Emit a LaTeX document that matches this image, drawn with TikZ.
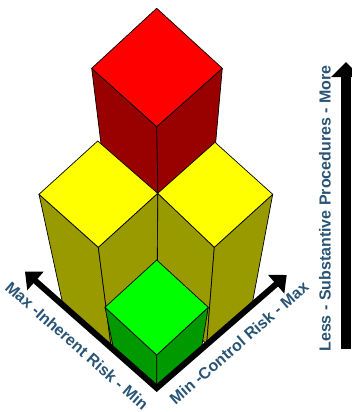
\documentclass[tikz,border=0pt]{standalone}
\usepackage{fontspec}
\setmainfont{Liberation Sans}
\usetikzlibrary{arrows.meta}
\definecolor{lbl}{RGB}{41,84,117}
\definecolor{redtop}{RGB}{255,0,0}
\definecolor{redside}{RGB}{153,0,0}
\definecolor{yeltop}{RGB}{255,255,0}
\definecolor{yelside}{RGB}{153,153,0}
\definecolor{grntop}{RGB}{0,255,0}
\definecolor{grnside}{RGB}{0,153,0}
\tikzset{
  face/.style={draw=black,line width=0.7pt,line join=round},
  axis/.style={draw=black,line width=6pt,line join=miter},
  lab/.style={text=lbl,font=\fontsize{16}{16}\selectfont\bfseries,inner sep=0pt}
}
\begin{document}
\begin{tikzpicture}[x=1pt,y=-1pt]
\useasboundingbox (0,0) rectangle (352,412);
% red cube (back)
\coordinate (rT) at (156.7,8.3);
\coordinate (rL) at (91.7,68.3);
\coordinate (rR) at (222.3,68.3);
\coordinate (rB) at (156.7,126.7);
\coordinate (rLb) at (102,152);
\coordinate (rCb) at (158,198);
\coordinate (rRb) at (215,150);
\fill[redside,face] (rL) -- (rB) -- (rCb) -- (rLb) -- cycle;
\fill[redside,face] (rB) -- (rR) -- (rRb) -- (rCb) -- cycle;
\fill[redtop,face] (rT) -- (rR) -- (rB) -- (rL) -- cycle;
% left yellow cube
\coordinate (aT) at (97.7,141);
\coordinate (aL) at (39,194.3);
\coordinate (aR) at (157.7,193.3);
\coordinate (aB) at (98.3,247.3);
\coordinate (aLb) at (63,305);
\coordinate (aBb) at (111,346);
\coordinate (aRb) at (157,300);
\fill[yelside,face] (aL) -- (aB) -- (aBb) -- (aLb) -- cycle;
\fill[yelside,face] (aB) -- (aR) -- (aRb) -- (aBb) -- cycle;
\fill[yeltop,face] (aT) -- (aR) -- (aB) -- (aL) -- cycle;
% right yellow cube
\coordinate (bT) at (215,142.3);
\coordinate (bL) at (157.7,193.3);
\coordinate (bR) at (272.7,194.3);
\coordinate (bB) at (214.3,247.3);
\coordinate (bRb) at (252,305);
\coordinate (bBb) at (206.7,344);
\coordinate (bLb) at (157.5,300);
\fill[yelside,face] (bL) -- (bB) -- (bBb) -- (bLb) -- cycle;
\fill[yelside,face] (bB) -- (bR) -- (bRb) -- (bBb) -- cycle;
\fill[yeltop,face] (bT) -- (bR) -- (bB) -- (bL) -- cycle;
% green cube (front)
\coordinate (gT) at (156.7,260);
\coordinate (gL) at (105,307.3);
\coordinate (gR) at (208.3,307.3);
\coordinate (gB) at (156.7,355);
\coordinate (gLb) at (113.7,349.5);
\coordinate (gBb) at (156.7,386);
\coordinate (gRb) at (201.5,348);
\fill[grnside,face] (gL) -- (gB) -- (gBb) -- (gLb) -- cycle;
\fill[grnside,face] (gB) -- (gR) -- (gRb) -- (gBb) -- cycle;
\fill[grntop,face] (gT) -- (gR) -- (gB) -- (gL) -- cycle;
% axes
\coordinate (O) at (156.7,388);
\coordinate (Ltip) at (25,271.7);
\coordinate (Rtip) at (286.7,275);
\coordinate (Vbot) at (346,349);
\coordinate (Vtip) at (346,62);
\draw[axis,{Triangle[length=14pt,width=24pt]}-{Triangle[length=14pt,width=24pt]}] (Ltip) -- (O) -- (Rtip);
\draw[draw=black,line width=10.5pt,-{Triangle[length=15pt,width=29pt]}] (Vbot) -- (Vtip);
% labels
\node[lab,rotate=-41.4] (inh) at (77,345.6) {Max -Inherent Risk - Min};
\node[lab,rotate=41] (ctl) at (239,343) {Min -Control Risk - Max};
\node[lab,rotate=90] (sub) at (325,208.5) {Less - Substantive Procedures - More};
\end{tikzpicture}
\end{document}
